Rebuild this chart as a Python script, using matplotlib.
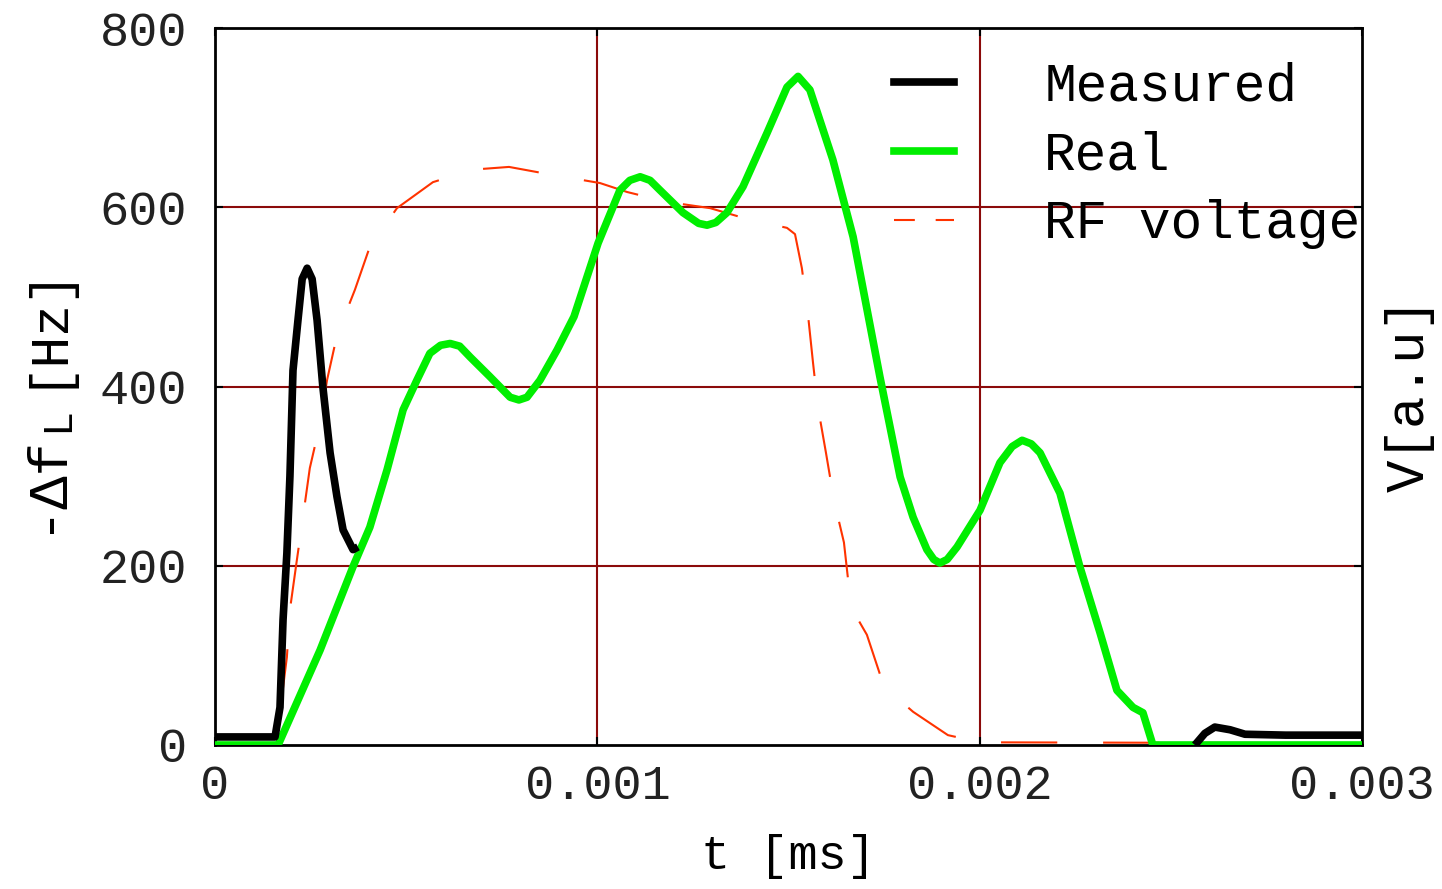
import matplotlib.pyplot as plt
from matplotlib.lines import Line2D

# measured detuning (two recorded segments)
t_meas1 = [0.0, 0.000157, 0.000170, 0.000178, 0.000188, 0.000196, 0.000204,
           0.000217, 0.000228, 0.000241, 0.000254, 0.000267, 0.000282,
           0.000301, 0.000319, 0.000335, 0.000361, 0.000374]
df_meas1 = [9, 9, 42, 140, 214, 300, 418, 474, 520, 532, 520, 474, 400, 326,
            277, 240, 218, 221]
t_meas2 = [0.002563, 0.002589, 0.002615, 0.002655, 0.002694, 0.002800, 0.003000]
df_meas2 = [0, 13, 20, 17, 12, 11, 11]

# reconstructed detuning
t_real = [0.0, 0.000165, 0.000275, 0.000361, 0.000405, 0.000450, 0.000492,
          0.000528, 0.000562, 0.000590, 0.000615, 0.000640, 0.000667,
          0.000719, 0.000772, 0.000795, 0.000816, 0.000850, 0.000895,
          0.000939, 0.001002, 0.001059, 0.001085, 0.001112, 0.001138,
          0.001164, 0.001224, 0.001265, 0.001287, 0.001310, 0.001339,
          0.001381, 0.001444, 0.001496, 0.001525, 0.001556, 0.001616,
          0.001669, 0.001739, 0.001792, 0.001826, 0.001862, 0.001880,
          0.001896, 0.001915, 0.001941, 0.002001, 0.002053, 0.002085,
          0.002111, 0.002135, 0.002158, 0.002210, 0.002262, 0.002315,
          0.002359, 0.002401, 0.002427, 0.002453, 0.003000]
df_real = [0, 0, 106, 199, 243, 307, 374, 407, 437, 446, 448, 445, 433, 411,
           388, 385, 388, 407, 441, 478, 560, 619, 630, 634, 630, 619, 594,
           582, 580, 583, 594, 623, 683, 734, 746, 731, 653, 567, 411, 299,
           254, 218, 207, 203, 207, 221, 262, 315, 333, 340, 336, 326, 281,
           199, 125, 61, 42, 36, 0, 0]

# RF drive voltage
t_rf = [0.0, 0.000162, 0.000175, 0.000188, 0.000196, 0.000214, 0.000230,
        0.000248, 0.000275, 0.000293, 0.000319, 0.000366, 0.000405, 0.000476,
        0.000570, 0.000675, 0.000769, 0.000884, 0.001007, 0.001078, 0.001182,
        0.001295, 0.001391, 0.001496, 0.001517, 0.001535, 0.001551, 0.001564,
        0.001577, 0.001598, 0.001619, 0.001645, 0.001656, 0.001682, 0.001705,
        0.001750, 0.001826, 0.001917, 0.002001, 0.003000]
v_rf = [0, 0, 54, 98, 151, 206, 254, 309, 359, 407, 457, 508, 556, 599, 628,
        642, 645, 636, 627, 617, 606, 599, 587, 577, 570, 532, 480, 427, 377,
        326, 273, 226, 184, 140, 123, 65, 37, 11, 3, 2]

t_ticks = [0, 0.001, 0.002, 0.003]
t_tick_labels = ["0", "0.001", "0.002", "0.003"]
df_ticks = [0, 200, 400, 600, 800]

plt.rcParams["font.family"] = ["Liberation Mono", "DejaVu Sans Mono"]
plt.rcParams["font.size"] = 35

W, H = 1442, 889
fig = plt.figure(figsize=(W / 100, H / 100), dpi=100)
ax = fig.add_axes([215 / W, 1 - 745 / H, 1147 / W, 717 / H])

grid_col = "#8b0a0a"
for tv in t_ticks[1:-1]:
    ax.axvline(tv, color=grid_col, lw=1.5, zorder=1)
for dv in df_ticks[1:-1]:
    ax.axhline(dv, color=grid_col, lw=1.5, zorder=1)

rf_col = "#ff3300"
thick = dict(lw=5.5, solid_joinstyle="round", solid_capstyle="butt")
ax.plot(t_rf, v_rf, color=rf_col, lw=1.5, dashes=(27, 22), zorder=2)
ax.plot(t_real, df_real, color="#00ee00", zorder=3, **thick)
ax.plot(t_meas1, df_meas1, color="black", zorder=4, **thick)
ax.plot(t_meas2, df_meas2, color="black", zorder=4, **thick)

ax.set_xlim(0, 0.003)
ax.set_ylim(0, 800)
ax.set_xticks(t_ticks)
ax.set_xticklabels(t_tick_labels)
ax.set_yticks(df_ticks)
ax.tick_params(direction="in", length=6, width=1.5, top=True, right=True,
               labelcolor="#222222")
ax.tick_params(axis="y", pad=20)
ax.tick_params(axis="x", pad=14)
for s in ax.spines.values():
    s.set_linewidth(2)

ax.set_xlabel("t [ms]", labelpad=18)

# left label built from pieces so the subscript stays large
fig.text(45 / W, 1 - 533 / H, "-\u0394f", rotation=90, ha="center",
         va="bottom", fontsize=40)
fig.text(57 / W, 1 - 432 / H, "L", rotation=90, ha="center", va="bottom",
         fontsize=30)
fig.text(45 / W, 1 - 388 / H, "[Hz]", rotation=90, ha="center", va="bottom",
         fontsize=38)
fig.text(1410 / W, 1 - 395 / H, "V[a.u]", rotation=90, ha="center",
         va="center", fontsize=39)

handles = [Line2D([], [], color="black", lw=5.5),
           Line2D([], [], color="#00ee00", lw=5.5),
           Line2D([], [], color=rf_col, lw=1.5, dashes=(10, 10))]
ax.legend(handles, ["Measured", "Real", "RF voltage"],
          loc="upper right", bbox_to_anchor=(1.04, 1.02), frameon=False,
          handlelength=1.15, handletextpad=1.7, labelspacing=0.36,
          fontsize=38)

fig.savefig("out.png", dpi=100)
